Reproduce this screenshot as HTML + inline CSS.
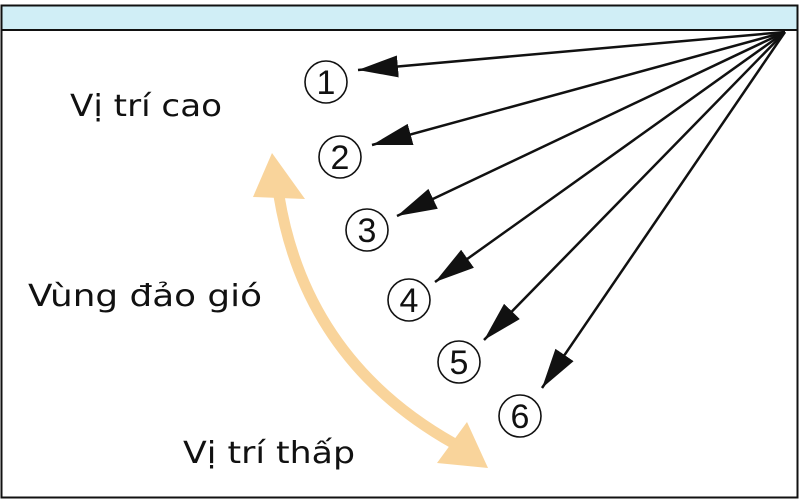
<!DOCTYPE html>
<html><head><meta charset="utf-8"><style>body{margin:0;background:#fff}svg{display:block}</style></head><body>
<svg width="800" height="500" viewBox="0 0 800 500" xmlns="http://www.w3.org/2000/svg">
<defs>
<marker id="a" markerUnits="userSpaceOnUse" markerWidth="44" markerHeight="24" refX="40" refY="11" orient="auto">
<path d="M0,0 L40,11 L0,22 Z" fill="#111"/>
</marker>
</defs>
<rect x="0" y="0" width="800" height="500" fill="#fff"/>
<rect x="2" y="6" width="795" height="24" fill="#d0eef6"/>
<rect x="1.5" y="5.5" width="796" height="492" fill="none" stroke="#111" stroke-width="2"/>
<line x1="1" y1="30" x2="798" y2="30" stroke="#111" stroke-width="2"/>
<g stroke="#111" stroke-width="2.5" fill="none">
<line x1="785" y1="32" x2="358" y2="70" marker-end="url(#a)"/>
<line x1="785" y1="32" x2="372" y2="145" marker-end="url(#a)"/>
<line x1="785" y1="32" x2="397" y2="216" marker-end="url(#a)"/>
<line x1="785" y1="32" x2="435" y2="282" marker-end="url(#a)"/>
<line x1="785" y1="32" x2="484" y2="340" marker-end="url(#a)"/>
<line x1="785" y1="32" x2="542" y2="388" marker-end="url(#a)"/>
</g>
<path d="M279,196 Q306,360 453,443" fill="none" stroke="#f9d49b" stroke-width="11"/>
<polygon points="272,153 305,199 253,197" fill="#f9d49b"/>
<polygon points="488,468 437,463 467,422" fill="#f9d49b"/>
<g fill="none" stroke="#111" stroke-width="1.6">
<circle cx="326" cy="82" r="21"/>
<circle cx="340" cy="157" r="21"/>
<circle cx="367" cy="230" r="21"/>
<circle cx="409" cy="300" r="21"/>
<circle cx="459" cy="362" r="21"/>
<circle cx="520" cy="416" r="21"/>
</g>
<g font-family="Liberation Sans Narrow, Liberation Sans, sans-serif" font-size="34" fill="#111" text-anchor="middle">
<text x="326" y="94">1</text>
<text x="340" y="169">2</text>
<text x="367" y="242">3</text>
<text x="409" y="312">4</text>
<text x="459" y="374">5</text>
<text x="520" y="428">6</text>
</g>
<g font-family="DejaVu Sans, Liberation Sans, sans-serif" font-size="30" fill="#111">
<text x="70" y="116" textLength="152" lengthAdjust="spacingAndGlyphs">Vị trí cao</text>
<text x="28" y="306" textLength="234" lengthAdjust="spacingAndGlyphs">Vùng đảo gió</text>
<text x="183" y="463" textLength="172" lengthAdjust="spacingAndGlyphs">Vị trí thấp</text>
</g>
</svg>
</body></html>
